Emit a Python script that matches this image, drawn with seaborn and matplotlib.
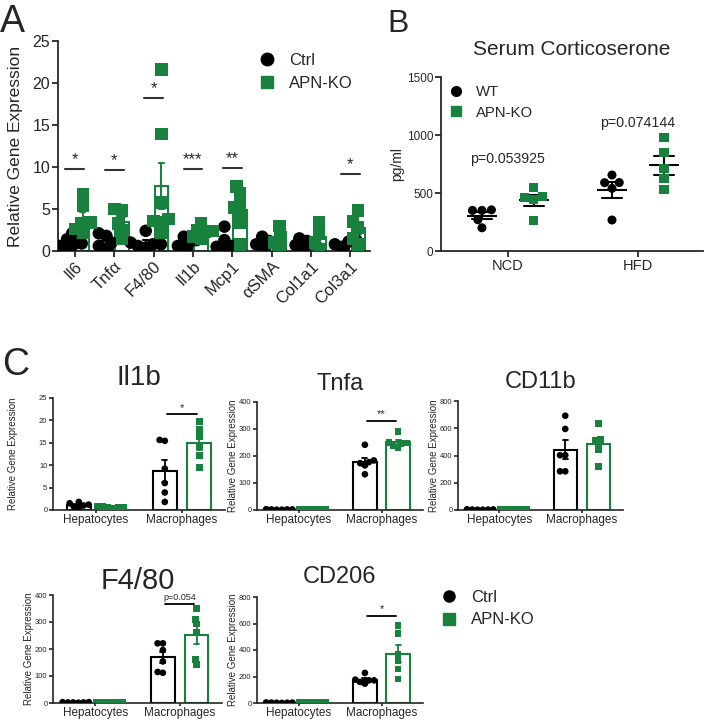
import matplotlib
matplotlib.use('Agg')
import matplotlib.pyplot as plt
from matplotlib.lines import Line2D
import pandas as pd
import seaborn as sns

# ---------------- data ----------------
groups = ['Ctrl', 'APN-KO']
groups_b = ['WT', 'APN-KO']

# panel A: relative gene expression, liver
genes_a = ['Il6', 'Tnfα', 'F4/80', 'Il1b', 'Mcp1', 'αSMA', 'Col1a1', 'Col3a1']
a_ctrl = [
    [2.1, 1.4, 1.0, 0.8, 0.6, 0.3, 0.9],
    [2.1, 1.8, 1.0, 0.6, 0.3],
    [2.4, 1.0, 0.8, 0.6, 0.4, 0.8],
    [1.7, 1.3, 1.0, 0.6, 0.2],
    [2.9, 1.3, 0.7, 0.5, 0.3, 0.6],
    [1.7, 1.2, 0.8, 0.5],
    [1.5, 1.2, 0.7, 0.4],
    [1.3, 1.1, 0.8, 0.5],
]
a_ko = [
    [6.8, 5.4, 3.4, 3.2, 2.6, 2.2],
    [5.0, 4.8, 3.3, 2.5, 1.5],
    [21.6, 13.9, 5.8, 3.6, 3.4, 3.8, 2.2],
    [3.3, 2.5, 2.4, 2.3, 1.7, 1.5],
    [7.7, 6.9, 5.8, 5.2, 4.6, 3.4, 0.8],
    [3.0, 1.6, 1.0, 0.3],
    [3.4, 2.0, 1.0, 0.2],
    [4.8, 3.5, 2.8, 1.5, 0.8],
]
a_sig = ['*', '*', '*', '***', '**', '', '', '*']
a_sig_y = [9.8, 9.7, 18.2, 9.8, 9.9, 0, 0, 9.2]

# panel B: serum corticosterone (pg/ml)
diets = ['NCD', 'HFD']
b_wt = [[350, 355, 350, 270, 200], [655, 590, 589, 540, 267]]
b_ko = [[546, 468, 463, 440, 267], [980, 851, 713, 621, 526]]
b_p = ['p=0.053925', 'p=0.074144']
b_p_y = [795, 1100]

# panel C: isolated cells
cells = ['Hepatocytes', 'Macrophages']
c_genes = ['Il1b', 'Tnfa', 'CD11b', 'F4/80', 'CD206']
c_ctrl = [
    [[1.5, 1.8, 1.0, 0.8, 1.2, 0.5], [15.6, 15.4, 9.2, 6.0, 3.9, 1.8]],
    [[2, 3, 1, 2, 2, 1], [241, 183, 177, 173, 165, 132]],
    [[3, 5, 2, 4, 3, 2], [692, 595, 402, 402, 284, 284]],
    [[2, 3, 1, 2, 2, 3], [221, 221, 196, 154, 115, 112]],
    [[2, 3, 1, 2, 4, 3], [227, 176, 171, 171, 159, 146]],
]
c_ko = [
    [[0.8, 0.6, 0.5, 0.7, 0.9, 0.4], [19.7, 17.9, 16.4, 14.2, 12.1, 9.4]],
    [[2, 3, 2, 1, 2, 3], [289, 249, 247, 246, 237, 231]],
    [[3, 4, 2, 3, 5, 2], [634, 518, 511, 482, 441, 318]],
    [[2, 3, 2, 1, 3, 2], [350, 310, 292, 262, 160, 142]],
    [[3, 2, 4, 3, 2, 3], [585, 524, 366, 317, 256, 180]],
]
c_ymax = [25, 400, 800, 400, 800]
c_ystep = [5, 100, 200, 100, 200]
c_sig = ['*', '**', '', 'p=0.054', '*']
c_sig_y = [21.3, 330, 0, 368, 659]

# ---------------- style ----------------
W, H = 705, 721
GREEN = '#17813d'
pal = {'Ctrl': 'black', 'APN-KO': GREEN}
pal_b = {'WT': 'black', 'APN-KO': GREEN}
markers = {'Ctrl': 'o', 'WT': 'o', 'APN-KO': 's'}

sns.set_style('ticks')
plt.rcParams['font.family'] = ['Liberation Sans', 'DejaVu Sans']

fig = plt.figure(figsize=(W / 100, H / 100), dpi=100)


def px_axes(left, top, right, bottom):
    return fig.add_axes([left / W, 1 - bottom / H, (right - left) / W, (bottom - top) / H])


def long_form(cats, series, names, cat_col):
    rows = []
    for ci, cat in enumerate(cats):
        for name, vals in zip(names, series):
            rows += [{cat_col: cat, 'group': name, 'value': v} for v in vals[ci]]
    return pd.DataFrame(rows)


def swarm(ax, df, x, order, hue_order, palette, size):
    made = []
    for g in hue_order:
        n0 = len(ax.collections)
        sns.swarmplot(data=df[df.group == g], x=x, y='value', hue='group', order=order,
                      hue_order=hue_order, palette=palette, dodge=True, marker=markers[g],
                      size=size, linewidth=0, legend=False, warn_thresh=1, ax=ax)
        made += ax.collections[n0:]
    return made


def style(ax, lw=1.3, tick_size=8, length=4, pad=1.5):
    sns.despine(ax=ax)
    for s in ['left', 'bottom']:
        ax.spines[s].set_linewidth(lw)
    ax.tick_params(width=lw, length=length, direction='out', pad=pad, labelsize=tick_size)
    ax.set_xlabel('')


def ylabel_at(ax, text, x_px, size):
    ax.set_ylabel(text, fontsize=size, va='center')
    bb = ax.get_position()
    ax.yaxis.set_label_coords((x_px / W - bb.x0) / bb.width, 0.5)


def legend_at(x_px, y_px, labels, ms, size):
    hs = [Line2D([], [], ls='none', marker='o', color='black', markersize=ms, label=labels[0]),
          Line2D([], [], ls='none', marker='s', color=GREEN, markersize=ms, label=labels[1])]
    fig.legend(handles=hs, loc='upper left', bbox_to_anchor=(x_px / W, 1 - y_px / H),
               frameon=False, fontsize=size, handlelength=1.0, handletextpad=0.8,
               labelspacing=0.45, borderpad=0, borderaxespad=0)


# swarm collections that get a tighter layout than their final marker size
packed = []

# ---------------- panel A ----------------
axA = px_axes(58, 41, 370, 251)
dfa = long_form(genes_a, [a_ctrl, a_ko], groups, 'gene')
sns.barplot(data=dfa, x='gene', y='value', hue='group', order=genes_a, hue_order=groups,
            palette=pal, fill=False, errorbar='se', width=0.8, gap=0.15, capsize=0.25,
            linewidth=1.5, err_kws={'linewidth': 1.5}, legend=False, ax=axA)
packed += [(c, 9.0) for c in swarm(axA, dfa, 'gene', genes_a, groups, pal, 5.5)]
axA.set_xlim(-0.43, 7.5)
axA.set_ylim(0, 25)
axA.set_yticks(range(0, 26, 5))
style(axA, tick_size=11.5)
axA.tick_params(axis='x', labelsize=12)
for lab in axA.get_xticklabels():
    lab.set_rotation(45)
    lab.set_ha('right')
    lab.set_rotation_mode('anchor')
ylabel_at(axA, 'Relative Gene Expression', 16, 12.5)
for i, (t, y) in enumerate(zip(a_sig, a_sig_y)):
    if t:
        axA.plot([i - 0.24, i + 0.24], [y, y], color='0.2', lw=1.5)
        axA.text(i, y + 0.2, t, ha='center', va='bottom', fontsize=12)
legend_at(259, 53, groups, 9, 12)

# ---------------- panel B ----------------
axB = px_axes(441, 77, 703, 251)
dfb = long_form(diets, [b_wt, b_ko], groups_b, 'diet')
swarm(axB, dfb, 'diet', diets, groups_b, pal_b, 6.5)
sns.pointplot(data=dfb, x='diet', y='value', hue='group', order=diets, hue_order=groups_b,
              palette={g: 'black' for g in groups_b}, dodge=0.4, errorbar='se', capsize=0.15,
              markers='_', linestyles='none', markersize=21, markeredgewidth=1.5,
              err_kws={'linewidth': 1.5}, legend=False, ax=axB)
axB.set_xlim(-0.515, 1.5)
axB.set_ylim(0, 1500)
axB.set_yticks([0, 500, 1000, 1500])
style(axB, tick_size=8.5)
axB.tick_params(axis='x', labelsize=10.5)
ylabel_at(axB, 'pg/ml', 397, 10)
axB.set_title('Serum Corticoserone', fontsize=15, pad=16)
for i, (t, y) in enumerate(zip(b_p, b_p_y)):
    axB.text(i, y, t, ha='center', va='center', fontsize=10.2)
legend_at(449, 85, groups_b, 7, 10.7)

# ---------------- panel C ----------------
c_layout = [  # left, top, right, bottom, ylabel x, title pad, title size
    (53, 397.7, 225, 510, 13, 9, 20),
    (257, 401.7, 423, 510, 233, 8.4, 17),
    (458, 401, 623, 510, 434, 9.4, 17),
    (53, 595, 222, 703, 29, 2, 21),
    (257, 597, 423, 703, 233, 10, 17),
]
for k, gene in enumerate(c_genes):
    l, t, r, b, yx, tpad, tsize = c_layout[k]
    ax = px_axes(l, t, r, b)
    dfc = long_form(cells, [c_ctrl[k], c_ko[k]], groups, 'cell')
    sns.barplot(data=dfc, x='cell', y='value', hue='group', order=cells, hue_order=groups,
                palette=pal, fill=False, errorbar='se', width=0.8, gap=0.3, capsize=0.12,
                linewidth=1.5, err_kws={'linewidth': 1.3}, legend=False, ax=ax)
    packed += [(c, 4.8) for c in swarm(ax, dfc, 'cell', cells, groups, pal, 3.6)]
    ax.set_xlim(-0.5, 1.5)
    ax.set_ylim(0, c_ymax[k])
    ax.set_yticks(range(0, c_ymax[k] + 1, c_ystep[k]))
    style(ax, lw=1.2, tick_size=5.5, length=3, pad=1)
    ax.tick_params(axis='x', labelsize=8.5, length=2.5, pad=0.5)
    ylabel_at(ax, 'Relative Gene Expression', yx, 7)
    ax.set_title(gene, fontsize=tsize, pad=tpad)
    if c_sig[k]:
        y = c_sig_y[k]
        ax.plot([1 - 0.17, 1 + 0.17], [y, y], color='black', lw=1.3)
        ax.text(1, y + c_ymax[k] * 0.012, c_sig[k], ha='center', va='bottom',
                fontsize=6.5 if len(c_sig[k]) > 3 else 8)
legend_at(441, 590, groups, 8, 12)

# ---------------- panel letters ----------------
fig.text(0 / W, 1 - 32 / H, 'A', fontsize=27, va='baseline')
fig.text(387 / W, 1 - 32 / H, 'B', fontsize=23, va='baseline')
fig.text(2 / W, 1 - 375 / H, 'C', fontsize=27, va='baseline')

# freeze the swarm layouts, then draw those markers at full size (overlapping, as in Prism)
fig.canvas.draw()
for c, ms in packed:
    c.__dict__.pop('draw', None)
    c.set_sizes([ms ** 2])

fig.savefig('out.png', dpi=100)
